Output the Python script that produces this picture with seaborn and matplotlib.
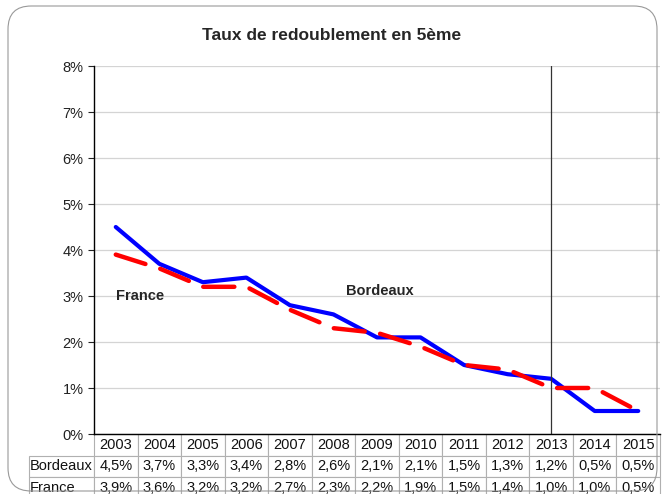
import pandas as pd
import matplotlib
matplotlib.use("Agg")
from matplotlib import pyplot as plt
from matplotlib.patches import FancyBboxPatch
from matplotlib.ticker import FuncFormatter
import seaborn as sns

years = ["2003", "2004", "2005", "2006", "2007", "2008", "2009",
         "2010", "2011", "2012", "2013", "2014", "2015"]
bordeaux = [4.5, 3.7, 3.3, 3.4, 2.8, 2.6, 2.1, 2.1, 1.5, 1.3, 1.2, 0.5, 0.5]
france = [3.9, 3.6, 3.2, 3.2, 2.7, 2.3, 2.2, 1.9, 1.5, 1.4, 1.0, 1.0, 0.5]

sns.set_style("white")
plt.rcParams["font.family"] = ["Liberation Sans", "DejaVu Sans"]

df = pd.DataFrame({"x": range(len(years)), "Bordeaux": bordeaux, "France": france})

fig = plt.figure(figsize=(6.63, 4.94), dpi=100)
ax = fig.add_axes([94 / 663, 1 - 434 / 494, 566 / 663, 368 / 494])

# rounded frame around the chart
frame = FancyBboxPatch((8 / 663, 3 / 494), 649 / 663, 485 / 494,
                       boxstyle="round,pad=0,rounding_size=0.035",
                       transform=fig.transFigure, fill=False,
                       edgecolor="#999999", linewidth=0.8, clip_on=False,
                       mutation_aspect=663 / 494)
fig.patches.append(frame)

sns.lineplot(data=df, x="x", y="Bordeaux", ax=ax, color="#0000ff", linewidth=3)
sns.lineplot(data=df, x="x", y="France", ax=ax, color="#ff0000", linewidth=3.2,
             dashes=False)
ax.lines[-1].set_dashes((7, 3.5))
ax.lines[-1].set_dash_capstyle("round")

ax.set_xlim(-0.5, len(years) - 0.5)
ax.set_ylim(0, 8)
ax.set_yticks(range(0, 9))
ax.yaxis.set_major_formatter(FuncFormatter(lambda v, p: f"{int(v)}%"))
ax.tick_params(axis="y", labelsize=10.5, length=4, direction="out", left=True,
               colors="#222222", width=0.8)
ax.grid(axis="y", color="#d4d4d4", linewidth=0.9)
ax.set_xticks([])
ax.set_xlabel("")
ax.set_ylabel("")
for s in ["top", "right"]:
    ax.spines[s].set_visible(False)
for s in ["left", "bottom"]:
    ax.spines[s].set_color("black")
    ax.spines[s].set_linewidth(1)

ax.axvline(10, color="#333333", linewidth=0.9)

ax.text(0, 3.0, "France", fontsize=10.5, fontweight="bold", va="center")
ax.text(6.07, 3.1, "Bordeaux", fontsize=10.5, fontweight="bold", va="center",
        ha="center")

fig.text(0.5, 1 - 35 / 494, "Taux de redoublement en 5ème", fontsize=12.5,
         fontweight="bold", ha="center", va="center")

fmt = lambda v: f"{v:.1f}%".replace(".", ",")
cells = [years, [fmt(v) for v in bordeaux], [fmt(v) for v in france]]
row_h = 21.5 / 368
tbl = ax.table(cellText=cells, rowLabels=["", "Bordeaux", "France"],
               cellLoc="center", rowLoc="left",
               bbox=[0, -3 * row_h, 1, 3 * row_h])
tbl.auto_set_font_size(False)
tbl.set_fontsize(10.5)
for (r, c), cell in tbl.get_celld().items():
    cell.set_edgecolor("#b0b0b0")
    cell.set_linewidth(0.8)
    if c == -1:
        cell.set_width(73 / 566)
        cell.PAD = 0.02
        if r == 0:
            cell.set_edgecolor("white")
    cell.get_text().set_color("#111111")

fig.savefig("out.png", dpi=100)
